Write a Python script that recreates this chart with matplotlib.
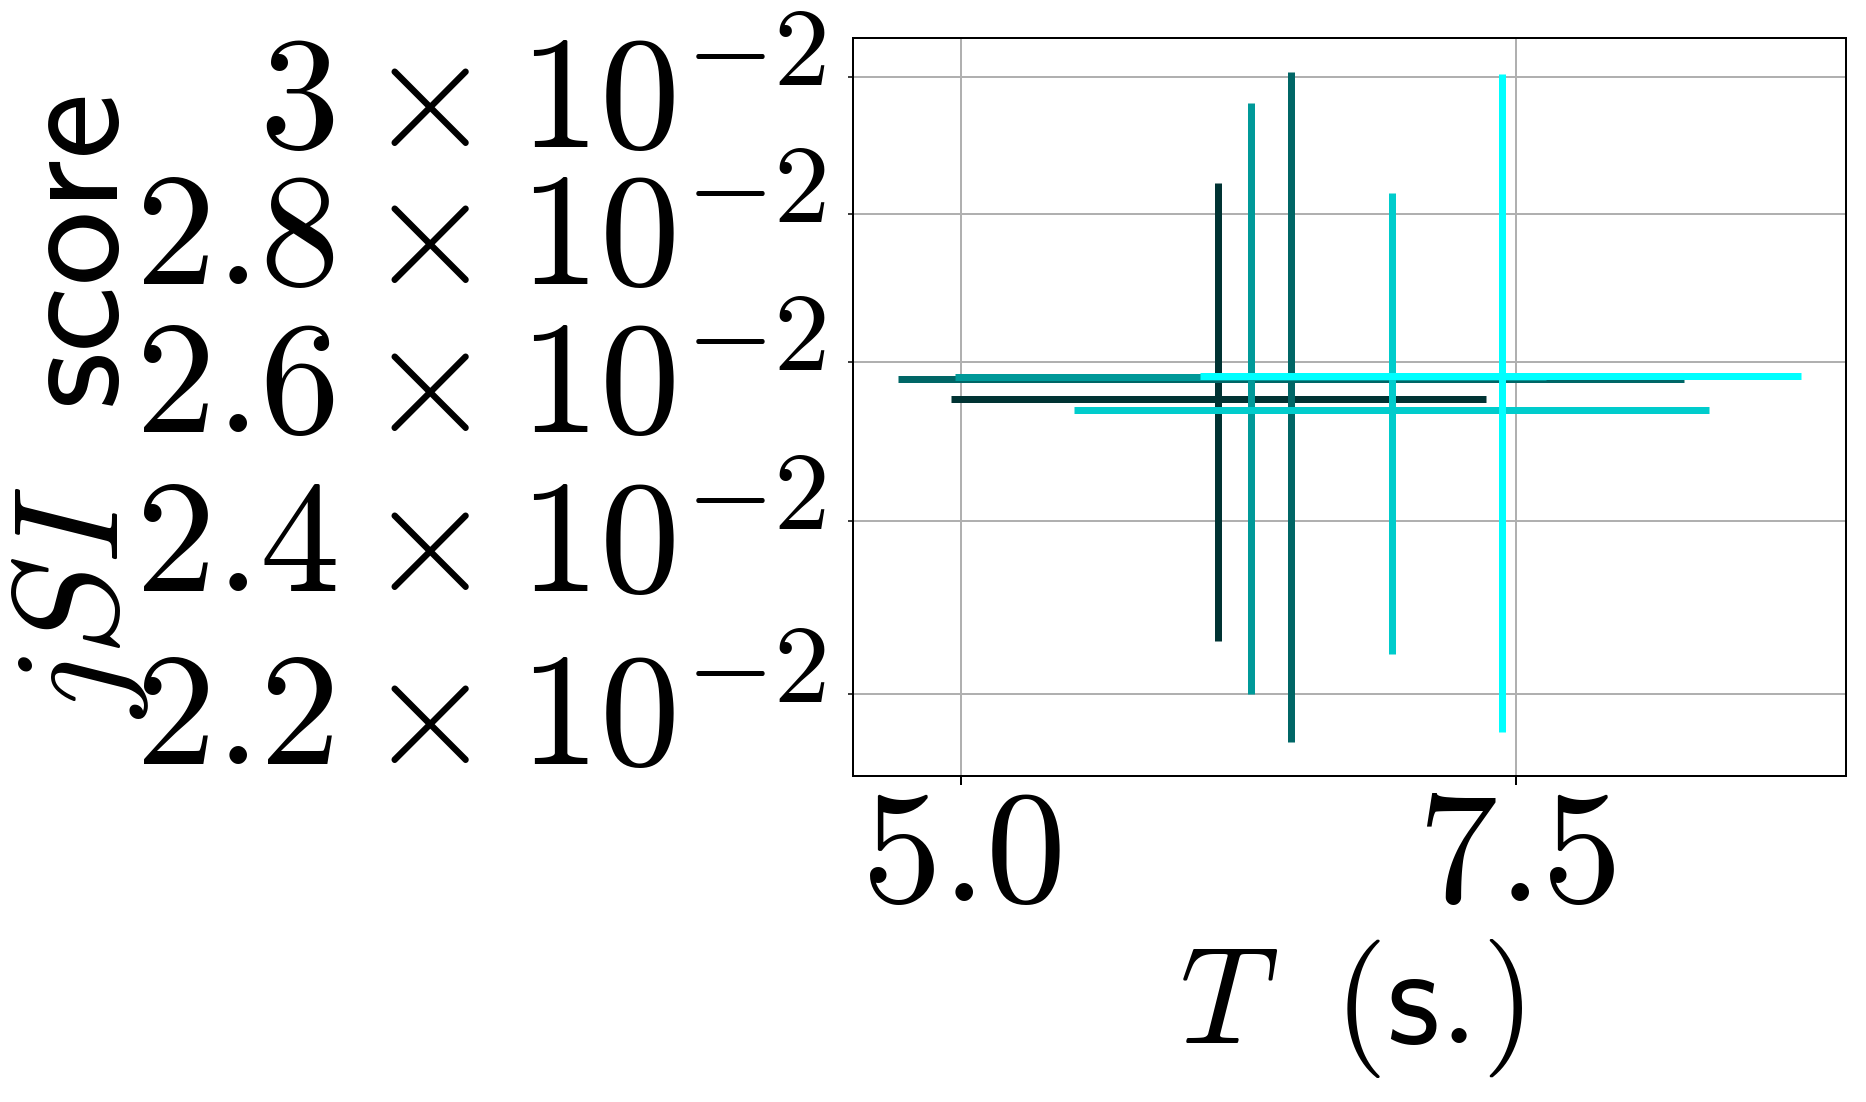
import matplotlib
matplotlib.use("Agg")
import matplotlib.pyplot as plt
from matplotlib.transforms import ScaledTranslation

plt.rcParams['mathtext.fontset'] = 'cm'

# one run per colour: T (s.) and jSI score, with their spread
colors = ['#003333', '#006666', '#009999', '#00cccc', '#00ffff']
T_mid = [6.157, 6.488, 6.307, 6.944, 7.436]
T_lo = [4.958, 4.718, 4.972, 5.512, 6.079]
T_hi = [7.364, 8.255, 7.637, 8.370, 8.783]
jsi_mid = [0.025519, 0.025776, 0.025802, 0.025382, 0.025810]
jsi_lo = [0.022592, 0.021475, 0.022000, 0.022456, 0.021583]
jsi_hi = [0.028445, 0.030075, 0.029611, 0.028303, 0.030045]

xtick_vals = [5.0, 7.5]
xtick_labels = [r'$5.0$', r'$7.5$']
ytick_vals = [0.022, 0.024, 0.026, 0.028, 0.030]
ytick_labels = [r'$2.2\times10^{-2}$', r'$2.4\times10^{-2}$', r'$2.6\times10^{-2}$',
                r'$2.8\times10^{-2}$', r'$3\times10^{-2}$']

fig = plt.figure(figsize=(1866 / 180, 1102 / 180), dpi=180)
ax = fig.add_axes([0.4571, 0.2958, 0.9893 - 0.4571, 0.9655 - 0.2958])

for i in range(len(colors)):
    xerr = [[T_mid[i] - T_lo[i]], [T_hi[i] - T_mid[i]]]
    yerr = [[jsi_mid[i] - jsi_lo[i]], [jsi_hi[i] - jsi_mid[i]]]
    ax.errorbar(T_mid[i], jsi_mid[i], xerr=xerr, yerr=yerr, fmt='none',
                ecolor=colors[i], elinewidth=2.8)

ax.set_yscale('log')
ax.set_yticks(ytick_vals, labels=ytick_labels, minor=True)
ax.set_xticks(xtick_vals, labels=xtick_labels)
ax.tick_params(axis='both', which='both', labelsize=64)
ax.tick_params(axis='y', which='minor', pad=8.6)
ax.tick_params(axis='x', which='major', pad=-2.2)
ax.grid(True, which='both')

# nudge the y tick labels down a little
shift = ScaledTranslation(0, -4 / 72, fig.dpi_scale_trans)
for lab in ax.get_yticklabels(minor=True):
    lab.set_transform(lab.get_transform() + shift)

ax.set_xlabel(r'$T\ \;(\mathsf{s.}\!)$', fontsize=55)
ax.set_ylabel(r'$jSI\ \ \mathsf{score}$', fontsize=60)
ax.xaxis.set_label_coords(0.502, -0.218)
ax.yaxis.set_label_coords(-0.707, 0.5)

fig.savefig('out.png', dpi=180)
